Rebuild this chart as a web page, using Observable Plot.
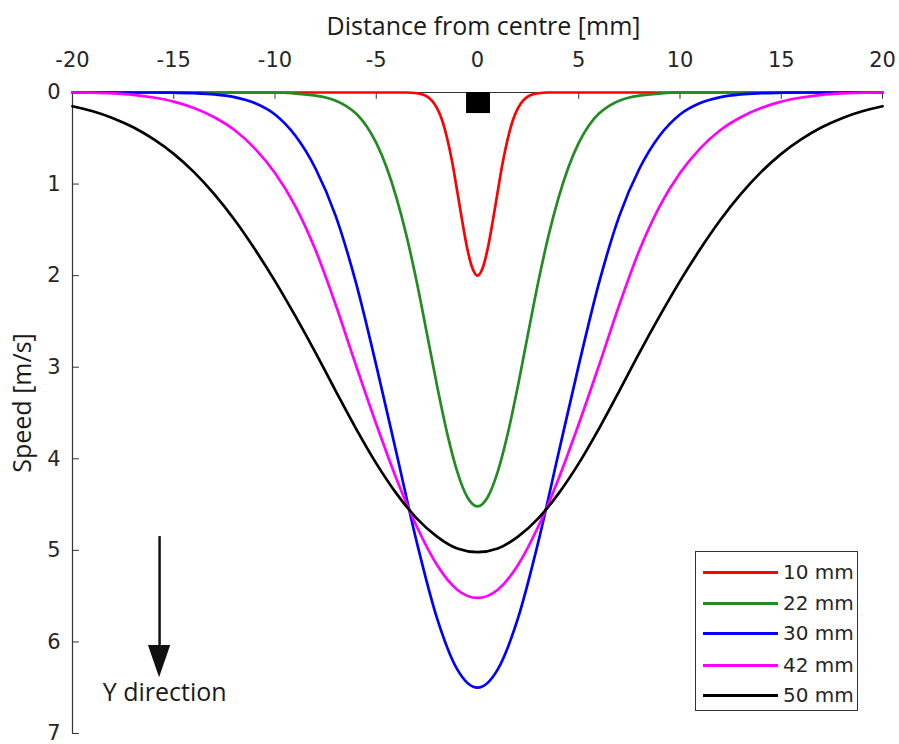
<!DOCTYPE html>
<html>
<head>
<meta charset="utf-8">
<script src="https://cdn.jsdelivr.net/npm/d3@7"></script>
<script src="https://cdn.jsdelivr.net/npm/@observablehq/plot@0.6"></script>
<style>
  html, body { margin: 0; padding: 0; background: #fff; }
  #wrap { position: relative; width: 899px; height: 744px; }
  #legend { position: absolute; left: 695px; top: 551px; width: 163px; height: 160px;
    border: 1px solid #333; background: #fff; box-sizing: border-box; }
  .item { position: absolute; left: 7px; height: 22px; display: flex; align-items: center;
    font-family: "DejaVu Sans", sans-serif; font-size: 20px; color: #262626; }
  .item span.sw { display: inline-block; width: 75px; height: 3px; margin-right: 5px; }
</style>
</head>
<body>
<div id="wrap"><div id="legend"></div></div>
<script>
const xTicks = [-20, -15, -10, -5, 0, 5, 10, 15, 20];
const yTicks = [0, 1, 2, 3, 4, 5, 6, 7];
const seriesNames = ["10 mm", "22 mm", "30 mm", "42 mm", "50 mm"];
const seriesColors = ["#ff0000", "#228b22", "#0000ff", "#ff00ff", "#000000"];

const xRed = [-20, -4, -3.5, -3, -2.75, -2.5, -2.25, -2, -1.75, -1.5, -1.25, -1, -0.75, -0.5, -0.25, 0,
  0.25, 0.5, 0.75, 1, 1.25, 1.5, 1.75, 2, 2.25, 2.5, 2.75, 3, 3.5, 4, 20];
const yRed = [0, 0, 0, 0.008, 0.019, 0.042, 0.088, 0.17, 0.30, 0.50, 0.76, 1.08, 1.41, 1.71, 1.92, 2.0,
  1.92, 1.71, 1.41, 1.08, 0.76, 0.50, 0.30, 0.17, 0.088, 0.042, 0.019, 0.008, 0, 0, 0];

const xGreen = [-20, -16, -12, -10, -9, -8, -7.5, -7, -6.5, -6, -5.5, -5, -4.5, -4, -3.5, -3, -2.5, -2, -1.5, -1, -0.5, 0,
  0.5, 1, 1.5, 2, 2.5, 3, 3.5, 4, 4.5, 5, 5.5, 6, 6.5, 7, 7.5, 8, 9, 10, 12, 16, 20];
const yGreen = [0, 0, 0, 0, 0.012, 0.035, 0.055, 0.09, 0.145, 0.23, 0.36, 0.55, 0.81, 1.15, 1.57, 2.07, 2.63, 3.20, 3.72, 4.14, 4.42, 4.52,
  4.42, 4.14, 3.72, 3.20, 2.63, 2.07, 1.57, 1.15, 0.81, 0.55, 0.36, 0.23, 0.145, 0.09, 0.055, 0.035, 0.012, 0, 0, 0, 0];

const xBlue = [-20, -18, -16, -15, -14, -13, -12, -11, -10, -9, -8, -7, -6, -5, -4, -3, -2, -1, 0,
  1, 2, 3, 4, 5, 6, 7, 8, 9, 10, 11, 12, 13, 14, 15, 16, 18, 20];
const yBlue = [0, 0, 0, 0.003, 0.008, 0.02, 0.05, 0.115, 0.24, 0.47, 0.83, 1.35, 2.08, 2.98, 3.94, 4.91, 5.74, 6.30, 6.50,
  6.30, 5.74, 4.91, 3.94, 2.98, 2.08, 1.35, 0.83, 0.47, 0.24, 0.115, 0.05, 0.02, 0.008, 0.003, 0, 0, 0];

const xMagenta = [-20, -19, -18, -17, -16, -15, -14, -13, -12, -11, -10, -9, -8, -7, -6, -5, -4, -3, -2, -1, 0,
  1, 2, 3, 4, 5, 6, 7, 8, 9, 10, 11, 12, 13, 14, 15, 16, 17, 18, 19, 20];
const yMagenta = [0, 0.003, 0.01, 0.025, 0.055, 0.10, 0.17, 0.27, 0.41, 0.61, 0.88, 1.24, 1.72, 2.32, 2.98, 3.62, 4.22, 4.74, 5.16, 5.43, 5.52,
  5.43, 5.16, 4.74, 4.22, 3.62, 2.98, 2.32, 1.72, 1.24, 0.88, 0.61, 0.41, 0.27, 0.17, 0.10, 0.055, 0.025, 0.01, 0.003, 0];

const xBlack = [-20, -19, -18, -17, -16, -15, -14, -13, -12, -11, -10, -9, -8, -7, -6, -5, -4, -3, -2, -1, 0,
  1, 2, 3, 4, 5, 6, 7, 8, 9, 10, 11, 12, 13, 14, 15, 16, 17, 18, 19, 20];
const yBlack = [0.15, 0.205, 0.28, 0.38, 0.51, 0.67, 0.87, 1.11, 1.39, 1.71, 2.06, 2.44, 2.84, 3.26, 3.67, 4.05, 4.38, 4.65, 4.85, 4.98, 5.02,
  4.98, 4.85, 4.65, 4.38, 4.05, 3.67, 3.26, 2.84, 2.44, 2.06, 1.71, 1.39, 1.11, 0.87, 0.67, 0.51, 0.38, 0.28, 0.205, 0.15];

// annotations
const markerSquare = [{x1: -0.54, x2: 0.64, y1: 0, y2: 0.23}];
const arrowShaft = [{x: -15.7, y1: 4.85, y2: 6.1}];
const arrowHead = [{y: 6.04, x1: -16.25, x2: -15.15}, {y: 6.39, x1: -15.7, x2: -15.7}];
const arrowLabel = [{x: -15.45, y: 6.56, text: "Y direction"}];
const xLabel = "Distance from centre [mm]";
const yLabel = "Speed [m/s]";

const xs = [xRed, xGreen, xBlue, xMagenta, xBlack];
const ys = [yRed, yGreen, yBlue, yMagenta, yBlack];
const rows = seriesNames.flatMap((name, i) => xs[i].map((x, j) => ({series: name, x, y: ys[i][j]})));

const axisColor = "#333333";
const textFont = "'Open Sans', sans-serif";
const tickFont = "'DejaVu Sans', sans-serif";
const tickShape = {draw(context, l) { context.moveTo(0, 0); context.lineTo(0, -l); }};

const chart = Plot.plot({
  width: 899,
  height: 744,
  marginLeft: 72,
  marginRight: 17,
  marginTop: 92,
  marginBottom: 11,
  x: {domain: [-20, 20], axis: null},
  y: {domain: [0, 7], reverse: true, axis: null},
  style: {background: "white", overflow: "visible"},
  marks: [
    Plot.ruleY([0], {stroke: axisColor, strokeWidth: 1}),
    Plot.ruleX([-20], {stroke: axisColor, strokeWidth: 1.2}),
    Plot.vector(xTicks, {x: d => d, frameAnchor: "top", length: 6, rotate: 180, anchor: "start", shape: tickShape, stroke: axisColor, strokeWidth: 1}),
    Plot.vector(yTicks, {y: d => d, frameAnchor: "left", length: 6, rotate: 90, anchor: "start", shape: tickShape, stroke: axisColor, strokeWidth: 1}),
    Plot.text(xTicks, {x: d => d, frameAnchor: "top", lineAnchor: "middle", dy: -32, text: d => String(d), fontSize: 21, fontFamily: tickFont, fill: "#262626"}),
    Plot.text(yTicks, {y: d => d, frameAnchor: "left", lineAnchor: "middle", dx: -12, textAnchor: "end", text: d => String(d), fontSize: 21, fontFamily: tickFont, fill: "#262626"}),
    Plot.text([xLabel], {frameAnchor: "top", lineAnchor: "middle", textAnchor: "middle", dy: -66, dx: 6, text: d => d, fontSize: 25, fontFamily: textFont, fill: "#1a1a1a", letterSpacing: "0.4px"}),
    Plot.text([yLabel], {frameAnchor: "left", lineAnchor: "middle", textAnchor: "middle", dx: -50, dy: -10, rotate: -90, text: d => d, fontSize: 25, fontFamily: textFont, fill: "#1a1a1a", letterSpacing: "0.4px"}),
    Plot.rect(markerSquare, {x1: "x1", x2: "x2", y1: "y1", y2: "y2", fill: "black"}),
    Plot.ruleX(arrowShaft, {x: "x", y1: "y1", y2: "y2", stroke: "#111", strokeWidth: 2.5}),
    Plot.areaX(arrowHead, {y: "y", x1: "x1", x2: "x2", fill: "#111"}),
    Plot.text(arrowLabel, {x: "x", y: "y", text: "text", fontSize: 25, fontFamily: textFont, fill: "#1a1a1a", letterSpacing: "0.4px"}),
    Plot.line(rows, {x: "x", y: "y", z: "series", stroke: "series", strokeWidth: 2.7, curve: "monotone-x"})
  ],
  color: {domain: seriesNames, range: seriesColors}
});

document.getElementById("wrap").prepend(chart);

const legend = document.getElementById("legend");
const legendTops = [9, 40, 70, 102, 132];
seriesNames.forEach((name, i) => {
  const item = document.createElement("div");
  item.className = "item";
  item.style.top = legendTops[i] + "px";
  const sw = document.createElement("span");
  sw.className = "sw";
  sw.style.background = seriesColors[i];
  item.appendChild(sw);
  item.appendChild(document.createTextNode(name));
  legend.appendChild(item);
});
</script>
</body>
</html>
